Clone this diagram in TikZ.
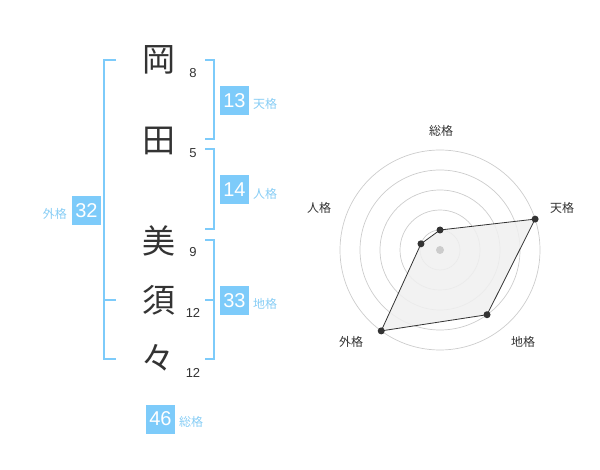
\documentclass[tikz,border=0pt]{standalone}
\usepackage{fontspec}
\setmainfont{Liberation Sans}
\newfontfamily\jp{Noto Sans CJK JP}
\definecolor{kblue}{RGB}{125,203,250}
\definecolor{klabel}{RGB}{135,205,245}
\definecolor{kdark}{RGB}{51,51,51}
\definecolor{kgrid}{RGB}{204,204,204}
\definecolor{kfill}{RGB}{240,240,240}
\tikzset{
  kanji/.style={font=\jp\fontsize{33}{33}\selectfont, text=kdark, inner sep=0pt},
  stroke/.style={font=\fontsize{13}{13}\selectfont, text=kdark, inner sep=0pt},
  numbox/.style={fill=kblue, text=white, minimum size=29pt, inner sep=0pt, font=\fontsize{20}{20}\selectfont},
  klab/.style={font=\jp\fontsize{12}{12}\selectfont, text=klabel, inner sep=0pt},
  bracket/.style={draw=kblue, line width=1.6pt},
  grid/.style={draw=kgrid, line width=0.7pt},
  rlab/.style={font=\jp\fontsize{12}{12}\selectfont, text=kdark, inner sep=0pt},
  dot/.style={circle, fill=kdark, inner sep=0pt, minimum size=7pt},
}
\begin{document}
\begin{tikzpicture}[x=1pt,y=-1pt]
\useasboundingbox (0,0) rectangle (600,470);
% characters
\node[kanji] (c1) at (159,60) {岡};
\node[kanji] (c2) at (159,141) {田};
\node[kanji] (c3) at (159,241) {美};
\node[kanji] (c4) at (159,300) {須};
\node[kanji] (c5) at (158,358) {々};
% stroke counts
\node[stroke] (n1) at (193,73) {8};
\node[stroke] (n2) at (193,153) {5};
\node[stroke] (n3) at (193,252) {9};
\node[stroke] (n4) at (193,313) {12};
\node[stroke] (n5) at (193,373) {12};
% brackets
\coordinate (b1a) at (205,60); \coordinate (b1b) at (214,60);
\coordinate (b1c) at (214,139); \coordinate (b1d) at (205,139);
\draw[bracket] (b1a) -- (b1b) -- (b1c) -- (b1d);
\coordinate (b2a) at (205,149); \coordinate (b2b) at (214,149);
\coordinate (b2c) at (214,229); \coordinate (b2d) at (205,229);
\draw[bracket] (b2a) -- (b2b) -- (b2c) -- (b2d);
\coordinate (b3a) at (205,240); \coordinate (b3b) at (214,240);
\coordinate (b3c) at (214,359); \coordinate (b3d) at (205,359);
\coordinate (b3m) at (205,300); \coordinate (b3n) at (214,300);
\draw[bracket] (b3a) -- (b3b) -- (b3c) -- (b3d);
\draw[bracket] (b3m) -- (b3n);
\coordinate (l1a) at (116,60); \coordinate (l1b) at (104,60);
\coordinate (l1c) at (104,359); \coordinate (l1d) at (116,359);
\coordinate (l1m) at (104,300); \coordinate (l1n) at (116,300);
\draw[bracket] (l1a) -- (l1b) -- (l1c) -- (l1d);
\draw[bracket] (l1m) -- (l1n);
% boxes
\node[numbox] (ten) at (234.5,100.5) {13};
\node[klab, anchor=west] (tenl) at (253,103.5) {天格};
\node[numbox] (jin) at (234.5,190) {14};
\node[klab, anchor=west] (jinl) at (253,193.5) {人格};
\node[numbox] (chi) at (234.5,300.5) {33};
\node[klab, anchor=west] (chil) at (253,303.5) {地格};
\node[numbox] (gai) at (86.5,210.5) {32};
\node[klab, anchor=east] (gail) at (67,213.5) {外格};
\node[numbox] (sou) at (160.5,419) {46};
\node[klab, anchor=west] (soul) at (179,422) {総格};
% radar
\coordinate (ctr) at (440,250);
\foreach \r in {20,40,60,80,100} \draw[grid] (ctr) circle[radius=\r];
\coordinate (p1) at (440,230);
\coordinate (p2) at (535.1,219.1);
\coordinate (p3) at (487.02,314.72);
\coordinate (p4) at (381.22,330.9);
\coordinate (p5) at (420.98,243.82);
\draw[fill=kfill, fill opacity=0.85, draw=kdark, line width=0.8pt, line join=round] (p1) -- (p2) -- (p3) -- (p4) -- (p5) -- cycle;
\fill[kgrid] (ctr) circle[radius=4];
\foreach \p in {p1,p2,p3,p4,p5} \node[dot] at (\p) {};
\node[rlab] (r1) at (441,131) {総格};
\node[rlab] (r2) at (562,208) {天格};
\node[rlab] (r3) at (319,208) {人格};
\node[rlab] (r4) at (351,342) {外格};
\node[rlab] (r5) at (523,342) {地格};
\end{tikzpicture}
\end{document}
